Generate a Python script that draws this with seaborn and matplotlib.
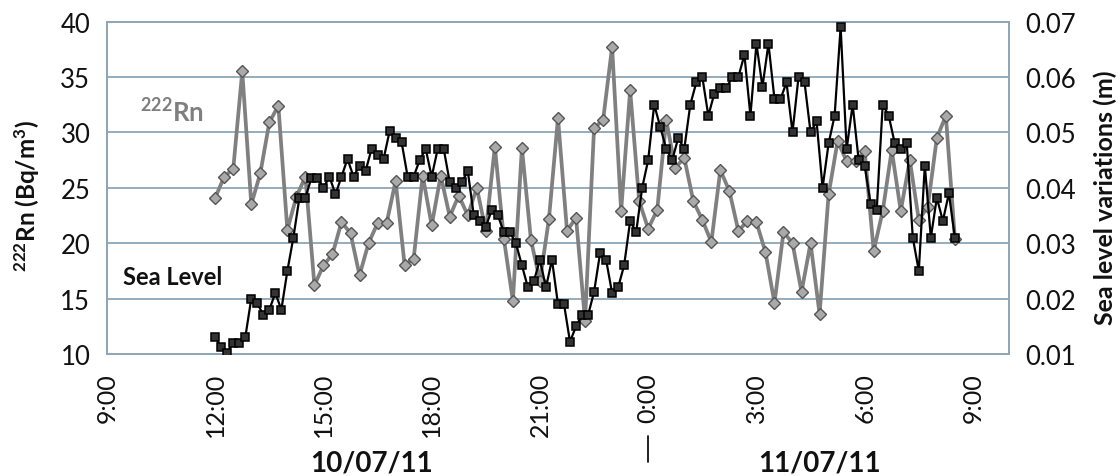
import numpy as np
import pandas as pd
import matplotlib
matplotlib.use("Agg")
import matplotlib.pyplot as plt
import matplotlib.dates as mdates
from matplotlib import transforms
from matplotlib.lines import Line2D
from matplotlib.ticker import FuncFormatter, FixedLocator
import seaborn as sns

# 222Rn activity, one reading every 15 minutes from 10/07/11 12:00
rn_start = "2011-07-10 12:00"
rn_step = "15min"
rn_bq_m3 = [
    24.1, 26.0, 26.7, 35.5, 23.5, 26.3, 30.9, 32.4, 21.2, 24.2,
    26.0, 16.2, 18.0, 19.0, 21.9, 20.9, 17.1, 20.0, 21.8, 21.8,
    25.6, 18.0, 18.6, 26.1, 21.6, 26.1, 22.4, 24.3, 22.5, 25.0,
    21.1, 28.7, 20.4, 14.8, 28.6, 20.3, 16.6, 22.2, 31.3, 21.1,
    22.3, 13.0, 30.4, 31.1, 37.7, 22.9, 33.8, 23.8, 21.3, 23.0,
    31.1, 26.8, 27.7, 23.8, 22.1, 20.1, 26.6, 24.7, 21.1, 22.0,
    21.9, 19.2, 14.6, 21.0, 20.0, 15.6, 20.0, 13.6, 24.4, 29.2,
    27.4, 27.4, 28.3, 19.3, 22.9, 28.4, 22.9, 27.5, 22.1, 23.3,
    29.5, 31.5, 20.4,
]

# Sea level variations (m), one reading every 10 minutes from 10/07/11 12:00
sea_start = "2011-07-10 12:00"
sea_step = "10min"
sea_level_m = [
    0.0130, 0.0112, 0.0102, 0.0120, 0.0120, 0.0130, 0.0200, 0.0192, 0.0170, 0.0180,
    0.0210, 0.0180, 0.0250, 0.0310, 0.0382, 0.0382, 0.0418, 0.0418, 0.0400, 0.0420,
    0.0388, 0.0420, 0.0452, 0.0420, 0.0440, 0.0430, 0.0470, 0.0460, 0.0452, 0.0502,
    0.0490, 0.0482, 0.0420, 0.0420, 0.0450, 0.0470, 0.0420, 0.0470, 0.0470, 0.0410,
    0.0400, 0.0410, 0.0430, 0.0350, 0.0340, 0.0330, 0.0360, 0.0350, 0.0320, 0.0320,
    0.0300, 0.0260, 0.0220, 0.0232, 0.0270, 0.0220, 0.0270, 0.0190, 0.0190, 0.0122,
    0.0150, 0.0170, 0.0170, 0.0212, 0.0282, 0.0270, 0.0210, 0.0220, 0.0260, 0.0340,
    0.0320, 0.0400, 0.0450, 0.0550, 0.0510, 0.0470, 0.0450, 0.0490, 0.0470, 0.0550,
    0.0590, 0.0600, 0.0530, 0.0570, 0.0580, 0.0580, 0.0600, 0.0600, 0.0640, 0.0530,
    0.0660, 0.0582, 0.0660, 0.0560, 0.0560, 0.0590, 0.0500, 0.0600, 0.0590, 0.0500,
    0.0520, 0.0400, 0.0480, 0.0530, 0.0690, 0.0470, 0.0550, 0.0450, 0.0440, 0.0370,
    0.0360, 0.0550, 0.0530, 0.0480, 0.0470, 0.0480, 0.0310, 0.0250, 0.0440, 0.0310,
    0.0382, 0.0340, 0.0390, 0.0310,
]

rn_ticks = [10, 15, 20, 25, 30, 35, 40]
sea_ticks = [0.01, 0.02, 0.03, 0.04, 0.05, 0.06, 0.07]
time_window = ("2011-07-10 09:00", "2011-07-11 10:00")
day_labels = ["10/07/11", "11/07/11"]
midnight = "2011-07-11 00:00"

sns.set_style("white")
plt.rcParams["font.family"] = ["Lato", "DejaVu Sans"]
plt.rcParams["mathtext.default"] = "regular"

rn = pd.DataFrame({
    "time": pd.date_range(rn_start, periods=len(rn_bq_m3), freq=rn_step),
    "rn": rn_bq_m3,
})
sea = pd.DataFrame({
    "time": pd.date_range(sea_start, periods=len(sea_level_m), freq=sea_step),
    "sea": sea_level_m,
})

frame_color = "#8FA6B6"
text_color = "#111111"

fig = plt.figure(figsize=(11.2, 4.77), dpi=100)
ax = fig.add_axes([0.0955, 0.2558, 0.8054, 0.6970])
ax2 = ax.twinx()

sns.lineplot(data=rn, x="time", y="rn", ax=ax, color="#808080", linewidth=2.7,
             marker="D", markersize=6.5, markerfacecolor="#a9a9a9",
             markeredgecolor="#555555", markeredgewidth=1.0, zorder=3)
sns.lineplot(data=sea, x="time", y="sea", ax=ax2, color="black", linewidth=1.6,
             marker="s", markersize=5.3, markerfacecolor="#333333",
             markeredgecolor="black", markeredgewidth=1.1, zorder=4)

# x axis: hourly ticks, labels every three hours
ax.set_xlim(pd.Timestamp(time_window[0]), pd.Timestamp(time_window[1]))
ax.xaxis.set_major_locator(mdates.HourLocator(byhour=range(24)))


def hour_label(v, pos):
    d = mdates.num2date(v)
    return f"{d.hour}:{d.minute:02d}" if d.hour % 3 == 0 else ""


ax.xaxis.set_major_formatter(FuncFormatter(hour_label))
ax.tick_params(axis="x", direction="out", length=5, width=1.2, color=frame_color,
               labelsize=18, labelcolor=text_color, pad=8, labelrotation=90)

# left axis: 222Rn
ax.set_ylim(rn_ticks[0], rn_ticks[-1])
ax.yaxis.set_major_locator(FixedLocator(rn_ticks))
ax.tick_params(axis="y", length=0, labelsize=18.5, labelcolor=text_color, pad=12)
ax.yaxis.grid(True, color=frame_color, linewidth=1.3)
ax.xaxis.grid(False)
ax.set_axisbelow(True)

# right axis: sea level
ax2.set_ylim(sea_ticks[0], sea_ticks[-1])
ax2.yaxis.set_major_locator(FixedLocator(sea_ticks))
ax2.yaxis.set_major_formatter(FuncFormatter(lambda v, p: f"{v:.2f}"))
ax2.tick_params(axis="y", length=0, labelsize=18.5, labelcolor=text_color, pad=12)
ax2.grid(False)

for a in (ax, ax2):
    a.set_xlabel("")
    a.set_ylabel("")
    for s in a.spines.values():
        s.set_color(frame_color)
        s.set_linewidth(1.3)

# axis titles
fig.text(0.0241, 0.589, r"$^{222}$Rn (Bq/m$^{3}$)", rotation=90, ha="center",
         va="center", fontsize=17.5, fontweight="bold", color=text_color)
fig.text(0.9866, 0.586, "Sea level variations (m)", rotation=90, ha="center",
         va="center", fontsize=18, fontweight="bold", color=text_color)

# series labels inside the plot
ax.text(0.072, 0.731, r"$^{222}$Rn", transform=ax.transAxes, ha="center",
        va="center", fontsize=18.5, fontweight="bold", color="#7f7f7f")
ax.text(0.073, 0.232, "Sea Level", transform=ax.transAxes, ha="center",
        va="center", fontsize=17, fontweight="bold", color=text_color)

# day labels with a separator at midnight
fig.text(0.332, 0.029, day_labels[0], ha="center", va="center", fontsize=20,
         fontweight="bold", color=text_color)
fig.text(0.732, 0.029, day_labels[1], ha="center", va="center", fontsize=20,
         fontweight="bold", color=text_color)
sep_tf = transforms.blended_transform_factory(ax.transData, fig.transFigure)
mid = mdates.date2num(pd.Timestamp(midnight))
fig.add_artist(Line2D([mid, mid], [0.084, 0.029], transform=sep_tf,
                      color=text_color, linewidth=1.3))

fig.savefig("out.png", dpi=100)
